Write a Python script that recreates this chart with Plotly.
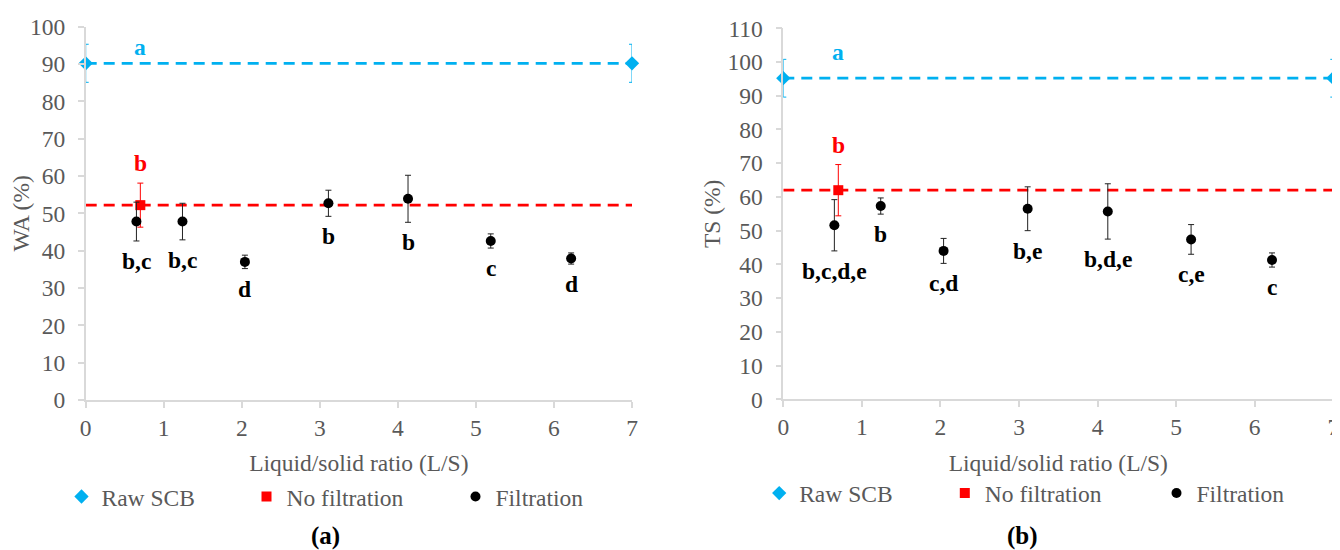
import plotly.graph_objects as go

# ---------------- data ----------------
ratio = [0.65, 1.24, 2.04, 3.11, 4.13, 5.19, 6.22]   # L/S ratio (filtration)
raw_x = [0, 7]
nofilt_x = [0.7]
x_ticks = [0, 1, 2, 3, 4, 5, 6, 7]

# (a) water absorption
wa_raw = 90.2
wa_raw_err = 5.1
wa_nofilt = 52.2
wa_nofilt_err = 5.9
wa_filt = [47.8, 47.8, 37.0, 52.7, 53.9, 42.6, 37.9]
wa_filt_err = [5.2, 4.9, 1.8, 3.5, 6.3, 1.9, 1.5]
wa_letters = ["b,c", "b,c", "d", "b", "b", "c", "d"]
wa_raw_letter = "a"
wa_nofilt_letter = "b"

# (b) thickness swelling
ts_raw = 95.2
ts_raw_err = 5.6
ts_nofilt = 62.0
ts_nofilt_err = 7.6
ts_filt = [51.6, 57.3, 44.0, 56.5, 55.7, 47.4, 41.3]
ts_filt_err = [7.6, 2.4, 3.7, 6.5, 8.2, 4.4, 2.1]
ts_letters = ["b,c,d,e", "b", "c,d", "b,e", "b,d,e", "c,e", "c"]
ts_raw_letter = "a"
ts_nofilt_letter = "b"

# ---------------- style ----------------
BLUE = "#00b0f0"
RED = "#ff0000"
BLACK = "#000000"
GREY_TXT = "#595959"
AXIS = "#d9d9d9"
FONT = "Liberation Serif, Times New Roman, serif"
FS = 23.5
OFF = 8                     # page body margin of the html page
W, H = 1340 - OFF, 550 - OFF


def px(v):
    return (v - OFF) / W


def py(v):
    return 1 - (v - OFF) / H


panels = [
    dict(xa="x", ya="y", raw=wa_raw, raw_err=wa_raw_err, nof=wa_nofilt, nof_err=wa_nofilt_err,
         filt=wa_filt, filt_err=wa_filt_err, letters=wa_letters, a=wa_raw_letter, b=wa_nofilt_letter,
         ytitle="WA (%)", ymax=100, xdom=[px(85.7), px(632)], ydom=[py(400), py(26.7)],
         a_shift=16, legends=["legend", "legend2", "legend3"], leg_x=[86, 271, 480], leg_y=496.7,
         cap="(a)", cap_x=325),
    dict(xa="x2", ya="y2", raw=ts_raw, raw_err=ts_raw_err, nof=ts_nofilt, nof_err=ts_nofilt_err,
         filt=ts_filt, filt_err=ts_filt_err, letters=ts_letters, a=ts_raw_letter, b=ts_nofilt_letter,
         ytitle="TS (%)", ymax=110, xdom=[px(783.3), px(1333.3)], ydom=[py(399.3), py(28.3)],
         a_shift=26, legends=["legend4", "legend5", "legend6"], leg_x=[783.7, 969.3, 1181], leg_y=493.3,
         cap="(b)", cap_x=1022),
]

fig = go.Figure()
annotations = []
layout_extra = {}

for i, p in enumerate(panels):
    xa, ya = p["xa"], p["ya"]
    # dashed reference lines
    fig.add_trace(go.Scatter(x=raw_x, y=[p["raw"]] * len(raw_x), mode="lines", xaxis=xa, yaxis=ya,
                             line=dict(color=BLUE, width=2.8, dash="11px,7px"), showlegend=False,
                             hoverinfo="skip", cliponaxis=False))
    fig.add_trace(go.Scatter(x=raw_x, y=[p["nof"]] * len(raw_x), mode="lines", xaxis=xa, yaxis=ya,
                             line=dict(color=RED, width=2.8, dash="11px,7px"), showlegend=False,
                             hoverinfo="skip", cliponaxis=False))
    # Raw SCB
    fig.add_trace(go.Scatter(x=raw_x, y=[p["raw"]] * len(raw_x), mode="markers", name="Raw SCB",
                             xaxis=xa, yaxis=ya, legend=p["legends"][0], cliponaxis=False,
                             marker=dict(symbol="diamond", size=11, color=BLUE),
                             error_y=dict(type="data", array=[p["raw_err"]] * len(raw_x),
                                          color=BLUE, thickness=1, width=3)))
    # No filtration
    fig.add_trace(go.Scatter(x=nofilt_x, y=[p["nof"]], mode="markers", name="No filtration",
                             xaxis=xa, yaxis=ya, legend=p["legends"][1], cliponaxis=False,
                             marker=dict(symbol="square", size=10, color=RED),
                             error_y=dict(type="data", array=[p["nof_err"]], color=RED,
                                          thickness=1, width=3)))
    # Filtration
    fig.add_trace(go.Scatter(x=ratio, y=p["filt"], mode="markers", name="Filtration",
                             xaxis=xa, yaxis=ya, legend=p["legends"][2], cliponaxis=False,
                             marker=dict(symbol="circle", size=10, color=BLACK),
                             error_y=dict(type="data", array=p["filt_err"], color="#222222",
                                          thickness=1, width=3)))
    # letters
    for xv, yv, ev, lt in zip(ratio, p["filt"], p["filt_err"], p["letters"]):
        annotations.append(dict(x=xv, y=yv - ev, xref=xa, yref=ya, text="<b>%s</b>" % lt,
                                showarrow=False, yanchor="middle", yshift=-20,
                                font=dict(family=FONT, size=FS, color=BLACK)))
    annotations.append(dict(x=nofilt_x[0], y=p["raw"], xref=xa, yref=ya, text="<b>%s</b>" % p["a"],
                            showarrow=False, yanchor="middle", yshift=p["a_shift"],
                            font=dict(family=FONT, size=FS, color=BLUE)))
    annotations.append(dict(x=nofilt_x[0], y=p["nof"] + p["nof_err"], xref=xa, yref=ya,
                            text="<b>%s</b>" % p["b"], showarrow=False, yanchor="middle", yshift=20,
                            font=dict(family=FONT, size=FS, color=RED)))
    # caption
    annotations.append(dict(x=px(p["cap_x"]), y=py(536), xref="paper", yref="paper",
                            text="<b>%s</b>" % p["cap"], showarrow=False, xanchor="center",
                            yanchor="middle", font=dict(family=FONT, size=25, color=BLACK)))
    # axes
    xkey = "xaxis" if i == 0 else "xaxis2"
    ykey = "yaxis" if i == 0 else "yaxis2"
    layout_extra[xkey] = dict(domain=p["xdom"], range=[0, 7], tickvals=x_ticks, anchor=ya,
                              automargin=False,
                              showline=True, linecolor=AXIS, linewidth=1.5, ticks="outside",
                              ticklen=6, tickcolor=AXIS, tickwidth=1.5, showgrid=False,
                              zeroline=False, tickfont=dict(family=FONT, size=FS, color=GREY_TXT),
                              title=dict(text="Liquid/solid ratio (L/S)",
                                         font=dict(family=FONT, size=FS, color=GREY_TXT)))
    layout_extra[ykey] = dict(domain=p["ydom"], range=[0, p["ymax"]], dtick=10, anchor=xa,
                              automargin=False,
                              showline=True, linecolor=AXIS, linewidth=1.5, ticks="outside",
                              ticklen=6, tickcolor=AXIS, tickwidth=1.5, showgrid=False,
                              zeroline=False, ticklabelstandoff=8,
                              tickfont=dict(family=FONT, size=FS, color=GREY_TXT),
                              title=dict(text=p["ytitle"], standoff=0,
                                         font=dict(family=FONT, size=FS, color=GREY_TXT)))
    # legends: one per entry so that each sits where the original puts it
    for lname, sx in zip(p["legends"], p["leg_x"]):
        layout_extra[lname] = dict(x=px(sx - 24.5), xanchor="left", y=py(p["leg_y"]),
                                   yanchor="middle", orientation="h", bgcolor="rgba(0,0,0,0)",
                                   borderwidth=0, font=dict(family=FONT, size=FS, color=GREY_TXT))

fig.update_layout(width=W, height=H, margin=dict(l=0, r=0, t=0, b=0, autoexpand=False),
                  paper_bgcolor="white", plot_bgcolor="white", showlegend=True,
                  annotations=annotations, **layout_extra)

fig.write_html("out.html")
